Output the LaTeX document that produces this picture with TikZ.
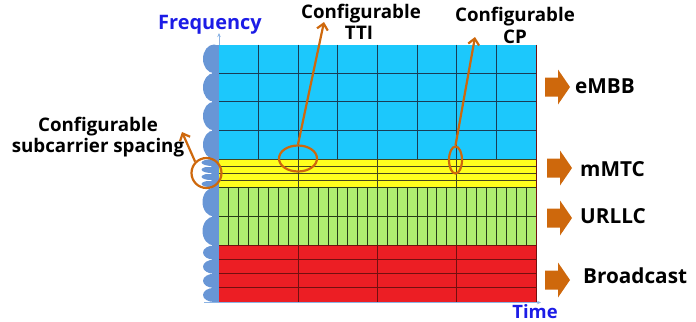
\documentclass[tikz,border=0pt]{standalone}
\usepackage{fontspec}
\setmainfont{Open Sans}
\usetikzlibrary{arrows.meta,shapes.geometric}

\definecolor{cyanfill}{RGB}{28,200,252}
\definecolor{cyanline}{RGB}{25,60,85}
\definecolor{yellowfill}{RGB}{255,255,30}
\definecolor{yellowline}{RGB}{70,70,30}
\definecolor{greenfill}{RGB}{176,238,112}
\definecolor{greenline}{RGB}{40,60,25}
\definecolor{redfill}{RGB}{236,30,36}
\definecolor{redline}{RGB}{115,15,15}
\definecolor{bumpblue}{RGB}{104,150,214}
\definecolor{axisblue}{RGB}{140,180,228}
\definecolor{accent}{RGB}{206,104,12}
\definecolor{labelblue}{RGB}{28,28,230}

\tikzset{
  gridline/.style={line width=0.9bp},
  bump/.style={fill=bumpblue},
  ring/.style={draw=accent, line width=2.2bp, inner sep=0pt},
  pointer/.style={draw=accent, line width=2.2bp, -{Straight Barb[length=6bp,width=11bp]}},
  axis/.style={draw=axisblue, line width=0.8bp, -{Stealth[length=4bp,width=3.5bp]}},
  toplabel/.style={font=\bfseries\fontsize{18.8}{22}\selectfont, text=black, inner sep=0pt, anchor=base},
  servicelabel/.style={font=\bfseries\fontsize{20.8}{24}\selectfont, text=black, inner sep=0pt, anchor=base west},
  axislabel/.style={font=\bfseries\fontsize{20}{23}\selectfont, text=labelblue, inner sep=0pt, anchor=base},
  blockarrow/.pic={\fill[accent] (0,-9.5) -- (13,-9.5) -- (13,-17.5) -- (25,0) -- (13,17.5) -- (13,9.5) -- (0,9.5) -- cycle;}
}

\begin{document}
\begin{tikzpicture}[x=1bp,y=-1bp]
\useasboundingbox (0,0) rectangle (696,321);

% subcarrier bumps along the frequency axis (drawn first, the grid covers their right halves)
\fill[bumpblue] (212,44.5) rectangle (220,302.5);
\foreach \k in {0,1,2,3} \fill[bump] (214,44.5+\k*28.625+14.3125) ellipse [x radius=11, y radius=14.3125];
\foreach \k in {0,1,2,3} \fill[bump] (214,159+\k*7.125+3.5625) ellipse [x radius=12.5, y radius=3.5625];
\foreach \k in {0,1} \fill[bump] (214,187.5+\k*29+14.5) ellipse [x radius=11.5, y radius=14.5];
\foreach \k in {0,1,2,3} \fill[bump] (214,245.5+\k*14.125+7.0625) ellipse [x radius=11, y radius=7.0625];
\foreach \k in {1,2,3} \draw[white, line width=0.6bp] (201,159+\k*7.125) -- (211,159+\k*7.125);

% resource grid: left 219, right 536
% eMBB band: 4 rows x 8 columns
\fill[cyanfill] (219,44.5) rectangle (536,159);
\foreach \k in {1,2,3} \draw[gridline,cyanline] (219,44.5+\k*28.625) -- (536,44.5+\k*28.625);
\foreach \i in {1,...,7} \draw[gridline,cyanline] (219+\i*39.625,44.5) -- (219+\i*39.625,159);

% mMTC band: 4 narrow rows x 4 columns
\fill[yellowfill] (219,159) rectangle (536,187.5);
\foreach \k in {0,1,2,3,4} \draw[gridline,yellowline] (219,159+\k*7.125) -- (536,159+\k*7.125);
\foreach \i in {1,2,3} \draw[gridline,yellowline] (219+\i*79.25,159) -- (219+\i*79.25,187.5);

% URLLC band: 2 rows x 32 short symbols
\fill[greenfill] (219,187.5) rectangle (536,245.5);
\foreach \k in {0,1} \draw[gridline,greenline] (219,187.5+\k*29) -- (536,187.5+\k*29);
\foreach \i in {1,...,31} \draw[gridline,greenline] (219+\i*9.906,187.5) -- (219+\i*9.906,245.5);

% Broadcast band: 4 rows x 4 columns
\fill[redfill] (219,245.5) rectangle (536,302);
\foreach \k in {0,1,2,3} \draw[gridline,redline] (219,245.5+\k*14.125) -- (536,245.5+\k*14.125);
\foreach \i in {1,2,3} \draw[gridline,redline] (219+\i*79.25,245.5) -- (219+\i*79.25,302);
\draw[gridline,redline] (536,44.5) -- (536,302);

% axes
\coordinate (origin) at (219,302.5);
\coordinate (freqtip) at (219,33);
\coordinate (axisstart) at (204,302.5);
\coordinate (timetip) at (541,302.5);
\draw[axis] (219,44.5) -- (freqtip);
\draw[axis] (axisstart) -- (timetip);
\node[axislabel] (freq) at (210,29) {Frequency};
\node[axislabel, font=\bfseries\fontsize{18.5}{22}\selectfont] (time) at (535,318) {Time};

% configurability markers
\node[ring, ellipse, minimum width=38bp, minimum height=26bp] (ttiring) at (298,158.5) {};
\node[ring, ellipse, minimum width=13bp, minimum height=27bp] (cpring) at (455.5,160) {};
\node[ring, circle, minimum size=30bp] (scsring) at (206.5,173) {};

\coordinate (ttitip) at (324,22);
\coordinate (cptip) at (475,37);
\coordinate (scstip) at (182,132);
\draw[pointer] (ttiring.north) -- (ttitip);
\draw[pointer] (cpring.north) -- (cptip);
\draw[pointer] (scsring.north west) -- (scstip);

\node[toplabel] (ttia) at (361,18.3) {Configurable};
\node[toplabel] (ttib) at (359,39.3) {TTI};
\node[toplabel] (cpa) at (515,21) {Configurable};
\node[toplabel] (cpb) at (515,43) {CP};
\node[toplabel] (scsa) at (98,131) {Configurable};
\node[toplabel] (scsb) at (98,152.5) {subcarrier spacing};

% service arrows and labels
\pic at (545,87) {blockarrow};
\pic at (547,168) {blockarrow};
\pic at (547,218) {blockarrow};
\pic at (545,280) {blockarrow};
\node[servicelabel] (embb) at (575,93) {eMBB};
\node[servicelabel] (mmtc) at (580,176) {mMTC};
\node[servicelabel] (urllc) at (580,223) {URLLC};
\node[servicelabel] (bcast) at (583,283) {Broadcast};
\end{tikzpicture}
\end{document}
